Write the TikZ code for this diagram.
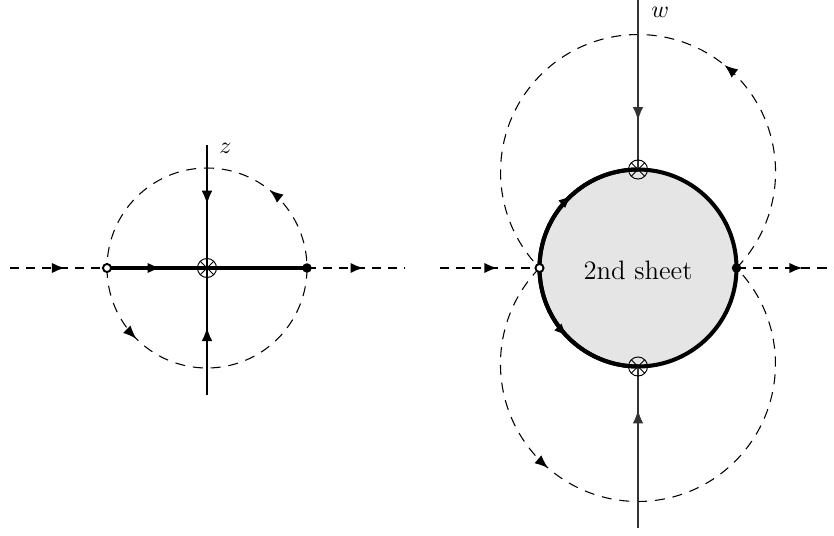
\documentclass[tikz,border=0pt]{standalone}
\usetikzlibrary{arrows.meta,decorations.markings}
\tikzset{
  tip/.tip={Latex[length=5.6pt,width=4.4pt]},
  arr/.style={postaction={decorate},decoration={markings,mark=at position #1 with {\arrow{tip}}}},
  arrtwo/.style 2 args={postaction={decorate},decoration={markings,
     mark=at position #1 with {\arrow{tip}},mark=at position #2 with {\arrow{tip}}}},
  axisline/.style={line width=0.45pt},
  loopdash/.style={line width=0.45pt,dash pattern=on 4.2pt off 3.3pt},
  realdash/.style={line width=1.1pt,dash pattern=on 3.8pt off 3pt},
  cutline/.style={line width=1.4pt},
  sheet/.style={line width=1.7pt,fill=black!10},
  otimes/.style={circle,draw,line width=0.4pt,minimum size=8pt,inner sep=0pt,
     path picture={\draw[line width=0.4pt] (path picture bounding box.north west)--(path picture bounding box.south east)
       (path picture bounding box.north east)--(path picture bounding box.south west);}},
  opendot/.style={circle,draw,line width=0.8pt,fill=white,minimum size=3.4pt,inner sep=0pt},
  fulldot/.style={circle,fill=black,minimum size=4pt,inner sep=0pt},
}
\begin{document}
\begin{tikzpicture}[x=0.42pt,y=0.42pt]
\useasboundingbox (0,0) rectangle (834,-535);
% ---------- left: z plane ----------
\coordinate (Lc) at (207,-268);
\coordinate (La) at (107,-268);
\coordinate (Lb) at (307,-268);
\coordinate (Lw) at (10,-268);
\coordinate (Le) at (405,-268);
\coordinate (Lt) at (207,-145);
\coordinate (Lbot) at (207,-395);
\draw[loopdash,arrtwo={0.125}{0.642}] (La) arc[start angle=180,end angle=540,radius=100];
\draw[realdash,arr=0.57] (Lw) -- (La);
\draw[realdash,arr=0.58] (Lb) -- (Le);
\draw[cutline,arr=0.27] (La) -- (Lb);
\draw[axisline,arr=0.48] (Lt) -- (Lc);
\draw[axisline,arr=0.53] (Lbot) -- (Lc);
\node[otimes] (Lx) at (Lc) {};
\node[opendot] (Lo) at (La) {};
\node[fulldot] (Lf) at (Lb) {};
\node[anchor=west,inner sep=0pt] (zl) at (219,-148) {$z$};
% ---------- right: w plane ----------
\coordinate (Rc) at (638,-268);
\coordinate (Ra) at (539.5,-268);
\coordinate (Rb) at (736.5,-268);
\coordinate (Rtop) at (638,-169.5);
\coordinate (Rbot) at (638,-366.5);
\coordinate (Rw) at (440,-268);
\coordinate (Re) at (834,-268);
\coordinate (Rt) at (638,0);
\coordinate (Rbb) at (638,-528);
\draw[loopdash,arr=0.355] (Rb) arc[start angle=-44.27,end angle=224.27,radius=137.5];
\draw[loopdash,arr=0.348] (Ra) arc[start angle=135.73,end angle=404.27,radius=137.5];
\draw[realdash,arr=0.58] (Rw) -- (Ra);
\draw[realdash,arr=0.68] (Rb) -- (Re);
\draw[sheet] (Rc) circle[radius=98.5];
\draw[sheet,fill=none,arr=0.53] (Ra) arc[start angle=180,end angle=90,radius=98.5];
\draw[sheet,fill=none,arr=0.49] (Ra) arc[start angle=180,end angle=270,radius=98.5];
\draw[axisline,black!80,arr=0.71] (Rt) -- (Rtop);
\draw[axisline,black!80,arr=0.73] (Rbb) -- (Rbot);
\node[otimes] (Rx1) at (Rtop) {};
\node[otimes] (Rx2) at (Rbot) {};
\node[opendot] (Ro) at (Ra) {};
\node[fulldot] (Rf) at (Rb) {};
\node[font=\fontsize{11.2}{13}\selectfont] (lab) at (638,-270) {2nd sheet};
\node[anchor=west,inner sep=0pt] (wl) at (651,-12) {$w$};
\end{tikzpicture}
\end{document}
